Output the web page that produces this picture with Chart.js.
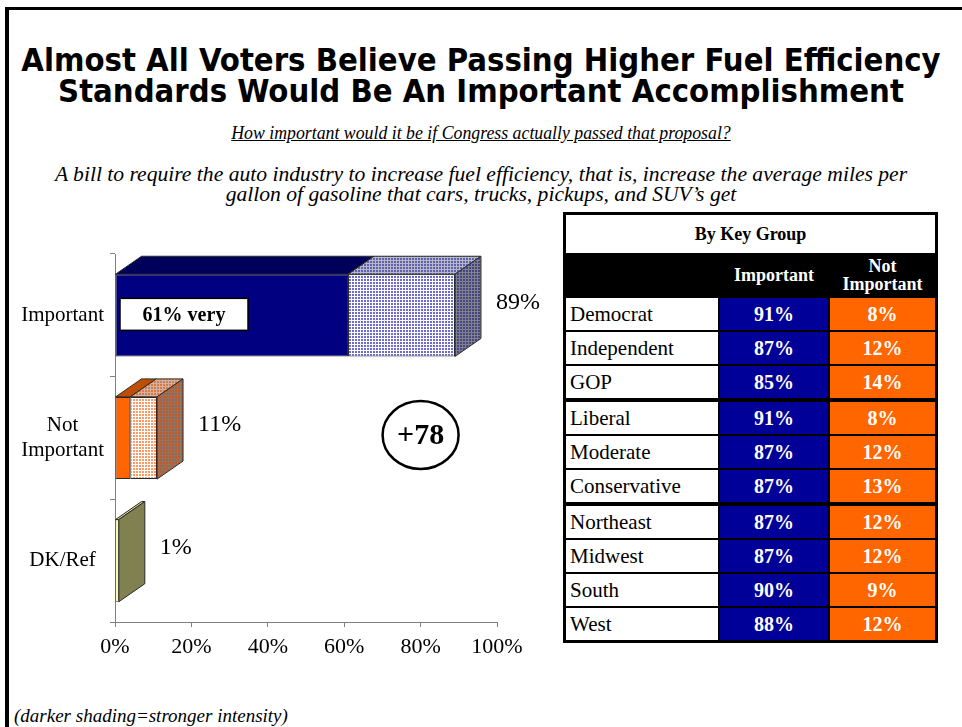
<!DOCTYPE html>
<html>
<head>
<meta charset="utf-8">
<script src="https://cdn.jsdelivr.net/npm/chart.js@4.4.1/dist/chart.umd.min.js"></script>
<style>
  html, body { margin: 0; padding: 0; background: #fff; }
  body { width: 962px; height: 727px; position: relative; overflow: hidden; font-family: "Liberation Serif", "Times New Roman", serif; color: #000; }
  #frame { position: absolute; left: 5px; top: 7px; width: 970px; height: 740px; border-top: 3px solid #000; border-left: 4px solid #000; }
  .title { position: absolute; left: 0; width: 962px; top: 45px; text-align: center; font-family: "DejaVu Sans Condensed", "DejaVu Sans", sans-serif; font-weight: bold; font-size: 32.5px; line-height: 31px; }
  .question { position: absolute; left: 0; width: 962px; top: 122px; text-align: center; font-style: italic; font-size: 17.8px; line-height: 22px; text-decoration: underline; }
  .bill { position: absolute; left: 0; width: 962px; top: 164px; text-align: center; font-style: italic; font-size: 21.6px; line-height: 20px; }
  .note { position: absolute; left: 14px; top: 705px; font-style: italic; font-size: 19px; line-height: 22px; }
  #chartBox { position: absolute; left: 0; top: 230px; width: 560px; height: 440px; }
  #groupTable { position: absolute; left: 563px; top: 212px; width: 375px; background: #000; padding: 3px; box-sizing: border-box; }
  #groupTable .head { background: #fff; height: 38px; line-height: 38px; text-align: center; font-weight: bold; font-size: 18px; }
  #groupTable .row { display: grid; grid-template-columns: 152px 108px 105px; column-gap: 2px; margin-top: 2px; }
  #groupTable .row.cols { height: 43px; margin-top: 0; color: #fff; font-weight: bold; font-size: 18px; line-height: 18px; }
  #groupTable .row.cols div { display: flex; align-items: center; justify-content: center; text-align: center; }
  #groupTable .row.gap { margin-top: 4px; }
  #groupTable .cell { height: 32px; line-height: 33px; font-size: 21px; }
  #groupTable .name { background: #fff; padding-left: 4px; }
  #groupTable .imp { background: #000099; color: #fff; font-weight: bold; text-align: center; font-size: 20px; }
  #groupTable .notimp { background: #FF6600; color: #fff; font-weight: bold; text-align: center; font-size: 20px; }
</style>
</head>
<body>
<div id="frame"></div>
<div class="title">Almost All Voters Believe Passing Higher Fuel Efficiency<br>Standards Would Be An Important Accomplishment</div>
<div class="question">How important would it be if Congress actually passed that proposal?</div>
<div class="bill">A bill to require the auto industry to increase fuel efficiency, that is, increase the average miles per<br>gallon of gasoline that cars, trucks, pickups, and SUV’s get</div>
<div id="chartBox"><canvas id="barChart" width="560" height="440"></canvas></div>
<div id="groupTable"></div>
<div class="note">(darker shading=stronger intensity)</div>

<script>
// overall answers
const categories = ["Important", ["Not", "Important"], "DK/Ref"];
const strongly = [61, 4, null];     // "very" / "not at all" important
const somewhat = [28, 7, null];     // "somewhat" / "not very" important
const dkRef = [null, null, 1];
const totals = [89, 11, 1];
const xTicks = [0, 20, 40, 60, 80, 100];

// by key group
const groups = ["Democrat", "Independent", "GOP", "Liberal", "Moderate", "Conservative", "Northeast", "Midwest", "South", "West"];
const groupImportant = [91, 87, 85, 91, 87, 87, 87, 87, 90, 88];
const groupNotImportant = [8, 12, 14, 8, 12, 13, 12, 12, 9, 12];
const groupBreaks = [3, 6];

// ---- table ----
const table = document.getElementById("groupTable");
let html = '<div class="head">By Key Group</div>';
html += '<div class="row cols"><div></div><div>Important</div><div>Not<br>Important</div></div>';
groups.forEach((g, i) => {
    const cls = groupBreaks.includes(i) ? "row gap" : "row";
    html += `<div class="${cls}"><div class="cell name">${g}</div>` +
        `<div class="cell imp">${groupImportant[i]}%</div>` +
        `<div class="cell notimp">${groupNotImportant[i]}%</div></div>`;
});
table.innerHTML = html;

// ---- dotted fills ----
function dots(bg, dot) {
    const c = document.createElement("canvas");
    c.width = 3; c.height = 3;
    const g = c.getContext("2d");
    g.fillStyle = bg; g.fillRect(0, 0, 3, 3);
    g.fillStyle = dot; g.fillRect(1, 1, 2, 2);
    return g.createPattern(c, "repeat");
}
const ctx = document.getElementById("barChart").getContext("2d");

const blueFront = dots("#ffffff", "#6a6ad0");
const blueTop = dots("#b8b8cc", "#6060a8");
const blueSide = dots("#80808f", "#474780");
const orangeFront = dots("#ffffff", "#ff9a66");
const orangeTop = dots("#ccb4a8", "#e07840");
const orangeSide = dots("#8c7668", "#c05a28");

const DX = 26, DY = -18;

// extruded faces (top + right side) for each stacked bar
const depthPlugin = {
    id: "depth",
    afterDatasetsDraw(chart) {
        const c = chart.ctx;
        const metas = chart.data.datasets.map((d, i) => chart.getDatasetMeta(i));
        const n = chart.data.labels.length;
        c.save();
        c.lineWidth = 1;
        c.strokeStyle = "#2a2a2a";
        for (let idx = 0; idx < n; idx++) {
            let last = null;
            metas.forEach((meta, di) => {
                const ds = chart.data.datasets[di];
                if (ds.data[idx] == null) return;
                const bar = meta.data[idx];
                const p = bar.getProps(["x", "y", "base", "height"], true);
                const top = p.y - p.height / 2;
                c.fillStyle = ds.topFill[idx];
                c.beginPath();
                c.moveTo(p.base, top);
                c.lineTo(p.x, top);
                c.lineTo(p.x + DX, top + DY);
                c.lineTo(p.base + DX, top + DY);
                c.closePath();
                c.fill(); c.stroke();
                last = { p, top, fill: ds.sideFill[idx] };
            });
            if (last) {
                const { p, top, fill } = last;
                c.fillStyle = fill;
                c.beginPath();
                c.moveTo(p.x, top);
                c.lineTo(p.x + DX, top + DY);
                c.lineTo(p.x + DX, top + p.height + DY);
                c.lineTo(p.x, top + p.height);
                c.closePath();
                c.fill(); c.stroke();

                // total label beside the bar
                c.fillStyle = "#000";
                c.font = "24px 'Liberation Serif'";
                c.textAlign = "left";
                c.textBaseline = "middle";
                c.fillText(totals[idx] + "%", p.x + DX + 15, p.y + DY + 5);
            }
        }

        const xs = chart.scales.x, ys = chart.scales.y;

        // "very" call-out inside the top bar
        const vBar = metas[0].data[0].getProps(["y"], true);
        const bx = xs.getPixelForValue(0) + 5;
        c.fillStyle = "#fff";
        c.fillRect(bx, vBar.y - 17, 128, 32);
        c.lineWidth = 1.5;
        c.strokeStyle = "#000";
        c.strokeRect(bx, vBar.y - 17, 128, 32);
        c.fillStyle = "#000";
        c.font = "bold 20px 'Liberation Serif'";
        c.textAlign = "center";
        c.fillText(strongly[0] + "% very", bx + 64, vBar.y);

        // net margin
        const cx = xs.getPixelForValue(80), cy = ys.getPixelForValue(1) - 3;
        c.lineWidth = 2.5;
        c.beginPath();
        c.ellipse(cx, cy, 38, 34, 0, 0, Math.PI * 2);
        c.stroke();
        c.font = "bold 30px 'Liberation Serif'";
        c.fillText("+" + (totals[0] - totals[1]), cx, cy + 1);
        c.restore();
    }
};

new Chart(ctx, {
    type: "bar",
    data: {
        labels: categories,
        datasets: [
            {
                label: "Strong",
                data: strongly,
                backgroundColor: ["#000080", "#ff6600", "#000"],
                topFill: ["#00005a", "#c04e00", "#000"],
                sideFill: ["#000040", "#803400", "#000"],
                borderColor: "#2a2a2a",
                borderWidth: 1,
                borderSkipped: false
            },
            {
                label: "Somewhat",
                data: somewhat,
                backgroundColor: [blueFront, orangeFront, "#000"],
                topFill: [blueTop, orangeTop, "#000"],
                sideFill: [blueSide, orangeSide, "#000"],
                borderColor: "#2a2a2a",
                borderWidth: 1,
                borderSkipped: false
            },
            {
                label: "DK/Ref",
                data: dkRef,
                backgroundColor: "#ffff99",
                topFill: ["#000", "#000", "#d6d68a"],
                sideFill: ["#000", "#000", "#808050"],
                borderColor: "#2a2a2a",
                borderWidth: 0.7,
                borderSkipped: false
            }
        ]
    },
    options: {
        indexAxis: "y",
        responsive: false,
        animation: false,
        devicePixelRatio: 1,
        layout: { padding: { top: 24, right: 63, bottom: 0, left: 0 } },
        datasets: { bar: { categoryPercentage: 1, barPercentage: 0.67 } },
        plugins: { legend: { display: false }, tooltip: { enabled: false } },
        scales: {
            x: {
                stacked: true,
                min: 0,
                max: 100,
                afterBuildTicks: s => { s.ticks = xTicks.map(v => ({ value: v })); },
                afterFit: s => { s.height = 48; },
                ticks: {
                    callback: v => v + "%",
                    color: "#000",
                    padding: 7,
                    font: { family: "'Liberation Serif'", size: 22 }
                },
                grid: { drawOnChartArea: false, tickLength: 5, color: "#808080" },
                border: { color: "#808080" }
            },
            y: {
                stacked: true,
                afterFit: s => { s.width = 115; },
                ticks: {
                    crossAlign: "center",
                    color: "#000",
                    padding: 6,
                    font: { family: "'Liberation Serif'", size: 21, lineHeight: 1.2 }
                },
                grid: { offset: true, drawOnChartArea: false, tickLength: 5, color: "#808080" },
                border: { color: "#808080" }
            }
        }
    },
    plugins: [depthPlugin]
});
</script>
</body>
</html>
